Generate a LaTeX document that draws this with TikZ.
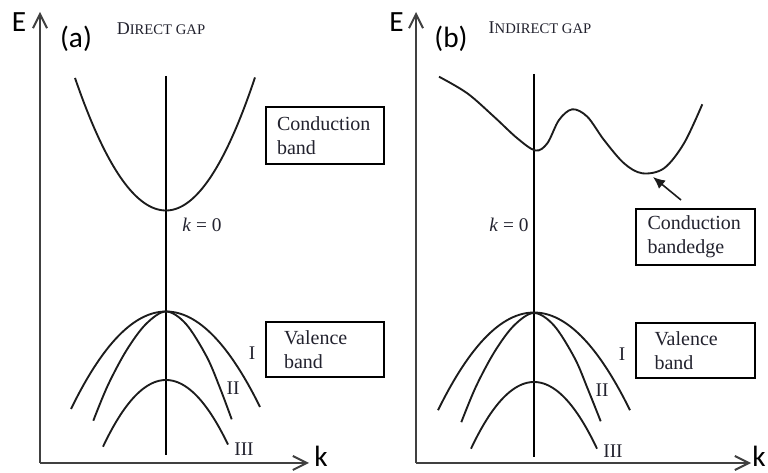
\documentclass[tikz,border=0pt]{standalone}
\usepackage{fontspec}
\setmainfont{Liberation Serif}
\newfontfamily\labelfont{Carlito}
\usetikzlibrary{arrows.meta}
\definecolor{axisgray}{HTML}{404040}
\definecolor{curveblack}{HTML}{1C1C1C}
\definecolor{textdark}{HTML}{22222E}
\begin{document}
\begin{tikzpicture}[x=0.75pt, y=-0.75pt,
  axis/.style={draw=axisgray, line width=1.5pt, -{Straight Barb[length=10.5pt,width=10.5pt]}},
  band/.style={draw=curveblack, line width=1.4pt},
  kline/.style={draw=black, line width=1.8pt},
  labelbox/.style={draw=black, line width=1.8pt, font=\fontsize{15}{18}\selectfont, text=textdark, align=left},
  axislabel/.style={font=\labelfont\fontsize{22}{24}\selectfont, text=black, inner sep=0pt},
  paneltag/.style={font=\labelfont\fontsize{22}{24}\selectfont, text=black, inner sep=0pt},
  gaptitle/.style={text=textdark, inner sep=0pt},
  bandlabel/.style={font=\fontsize{14.5}{16}\selectfont, text=textdark, inner sep=0pt},
  kzerolabel/.style={font=\fontsize{14.5}{16}\selectfont, text=textdark, inner sep=0pt},
  pointer/.style={draw=curveblack, line width=1.2pt, -{Latex[length=9pt,width=8pt]}}
]
\path[fill=white] (0,0) rectangle (768,473);
\useasboundingbox (0,0) rectangle (768,473);

% ================= Panel (a) =================
\coordinate (aO) at (40,463);
\coordinate (aEtip) at (40,12);
\coordinate (aKtip) at (309,463);
\draw[axis] (aO) -- (aEtip);
\draw[axis] (aO) -- (aKtip);
\node[axislabel] (aE) at (19,22.5) {E};
\node[axislabel] (aK) at (321,456) {k};
\node[paneltag] (atag) at (76,39) {(a)};
\node[gaptitle] (atitle) at (161,29) {{\fontsize{13.5}{15}\selectfont D}{\fontsize{11}{13}\selectfont IRECT GAP}};

\coordinate (aKtop) at (166,76);
\coordinate (aKbot) at (166,455);
\draw[kline] (aKtop) -- (aKbot);
\node[kzerolabel] (akzero) at (202,225) {\itshape k\/\upshape\ = 0};

% conduction band
\draw[band] plot[domain=-91:89, samples=80] ({166+\x},{210.5-(\x<0?0.0160:0.0168)*\x*\x});
% valence bands
\draw[band] plot[domain=-95:94, samples=60] ({166+\x},{311.5+0.0108*\x*\x});
\draw[band] plot[smooth, tension=0.55] coordinates {(93.3,420.7) (108,385) (126.7,350) (146,324) (166,311.5) (186,324) (206.7,356.7) (220,388) (231.7,419.3)};
\draw[band] plot[domain=-63:62, samples=60] ({166+\x},{380+0.0168*\x*\x});
\node[bandlabel] (aI) at (252,353) {I};
\node[bandlabel] (aII) at (233,388) {II};
\node[bandlabel] (aIII) at (244,449) {III};

\node[labelbox, minimum width=88.5pt, minimum height=42.75pt, text width=72pt, inner xsep=8.25pt] (acond) at (325,135.5) {Conduction\\band};
\node[labelbox, minimum width=88.5pt, minimum height=41.25pt, text width=61.5pt, inner xsep=13.5pt] (aval) at (325,349.5) {Valence\\band};

% ================= Panel (b) =================
\coordinate (bO) at (416,463);
\coordinate (bEtip) at (416,12);
\coordinate (bKtip) at (751,463);
\draw[axis] (bO) -- (bEtip);
\draw[axis] (bO) -- (bKtip);
\node[axislabel] (bE) at (396.5,22.5) {E};
\node[axislabel] (bK) at (759,456) {k};
\node[paneltag] (btag) at (451,39) {(b)};
\node[gaptitle] (btitle) at (540,28) {{\fontsize{13.5}{15}\selectfont I}{\fontsize{11}{13}\selectfont NDIRECT GAP}};

\coordinate (bKtop) at (534,74);
\coordinate (bKbot) at (534,457);
\draw[kline] (bKtop) -- (bKbot);
\node[kzerolabel] (bkzero) at (509,224.5) {\itshape k\/\upshape\ = 0};

% conduction band (indirect)
\draw[band] plot[smooth, tension=0.55] coordinates {(439,76.7) (467.3,93.3) (494,116.7) (517.3,138.3) (535.5,150.5) (547.3,143.3) (559,120) (572.3,109.3) (587.3,116.7) (604,140) (624,163.3) (642.3,173.3) (664,168.3) (684,143.3) (702.3,104.3)};
% valence bands
\draw[band] plot[domain=-96:96, samples=60] ({534+\x},{312.5+0.0106*\x*\x});
\draw[band] plot[smooth, tension=0.55] coordinates {(461.3,422.2) (476,386.5) (494.7,351.5) (514,325.5) (534,313) (554,325.5) (574.7,358.2) (588,389.5) (600.7,421.3)};
\draw[band] plot[domain=-63:63, samples=60] ({534+\x},{382+0.0168*\x*\x});
\node[bandlabel] (bI) at (622,354) {I};
\node[bandlabel] (bII) at (602,390) {II};
\node[bandlabel] (bIII) at (613,451) {III};

\node[labelbox, minimum width=89.25pt, minimum height=42pt, text width=72pt, inner xsep=8.6pt] (bcond) at (695.5,237) {Conduction\\bandedge};
\node[labelbox, minimum width=89.25pt, minimum height=41.25pt, text width=61.5pt, inner xsep=13.9pt] (bval) at (695.5,350.5) {Valence\\band};

\coordinate (bptrstart) at (681,200);
\coordinate (bptrend) at (653,177);
\draw[pointer] (bptrstart) -- (bptrend);
\end{tikzpicture}
\end{document}
